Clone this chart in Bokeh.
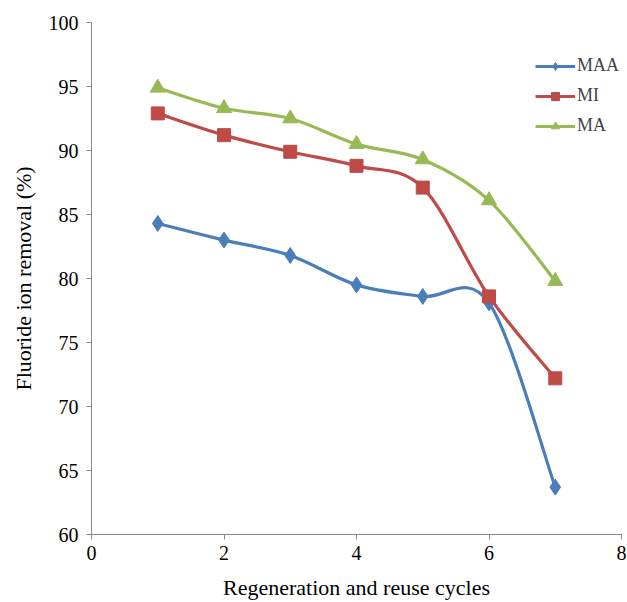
from bokeh.plotting import figure
from bokeh.models import Range1d, Legend, LegendItem, FixedTicker
from bokeh.embed import file_html
from bokeh.resources import INLINE

cycles = [1, 2, 3, 4, 5, 6, 7]
maa = [84.3, 83.0, 81.8, 79.5, 78.6, 78.1, 63.7]
mi = [92.9, 91.2, 89.9, 88.8, 87.1, 78.6, 72.2]
ma = [94.9, 93.3, 92.5, 90.5, 89.3, 86.1, 79.8]
series_names = ["MAA", "MI", "MA"]
x_ticks = [0, 2, 4, 6, 8]
y_ticks = [60, 65, 70, 75, 80, 85, 90, 95, 100]

FONT = "Liberation Serif"
AXIS_COLOR = "#898989"

p = figure(width=627, height=602, output_backend="svg", toolbar_location=None,
           x_range=Range1d(0, 8), y_range=Range1d(60, 100),
           min_border_left=91, min_border_right=6, min_border_top=22, min_border_bottom=66)
p.outline_line_color = None
p.xgrid.visible = False
p.ygrid.visible = False
p.background_fill_color = "white"
p.border_fill_color = "white"

for ax in (p.xaxis[0], p.yaxis[0]):
    ax.axis_line_color = AXIS_COLOR
    ax.major_tick_line_color = AXIS_COLOR
    ax.minor_tick_line_color = None
    ax.major_tick_out = 5
    ax.major_tick_in = 0
    ax.major_label_text_font = FONT
    ax.major_label_text_font_size = "20px"
    ax.major_label_text_color = "black"
    ax.axis_label_text_font = FONT
    ax.axis_label_text_font_size = "22px"
    ax.axis_label_text_font_style = "normal"
    ax.axis_label_text_color = "black"

p.xaxis.ticker = FixedTicker(ticks=x_ticks)
p.yaxis.ticker = FixedTicker(ticks=y_ticks)
p.xaxis.axis_label = "Regeneration and reuse cycles"
p.yaxis.axis_label = "Fluoride ion removal (%)"
p.xaxis.major_label_standoff = 6
p.yaxis.major_label_standoff = 8
p.xaxis.axis_label_standoff = 12
p.yaxis.axis_label_standoff = 10


def bezier_segments(xs, ys):
    n = len(xs)
    x0, y0, x1, y1, cx0, cy0, cx1, cy1 = [], [], [], [], [], [], [], []
    for i in range(n - 1):
        pm = max(i - 1, 0)
        pp = min(i + 2, n - 1)
        x0.append(xs[i]); y0.append(ys[i])
        x1.append(xs[i + 1]); y1.append(ys[i + 1])
        cx0.append(xs[i] + (xs[i + 1] - xs[pm]) / 6)
        cy0.append(ys[i] + (ys[i + 1] - ys[pm]) / 6)
        cx1.append(xs[i + 1] - (xs[pp] - xs[i]) / 6)
        cy1.append(ys[i + 1] - (ys[pp] - ys[i]) / 6)
    return dict(x0=x0, y0=y0, x1=x1, y1=y1, cx0=cx0, cy0=cy0, cx1=cx1, cy1=cy1)


styles = [
    (maa, "#4A7EBB", "diamond", 16),
    (mi, "#BE4B48", "square", 13),
    (ma, "#98B954", "triangle", 15),
]

items = []
for name, (vals, color, marker, size) in zip(series_names, styles):
    seg = bezier_segments(cycles, vals)
    p.bezier(line_color=color, line_width=3.2, **seg)
    sc = p.scatter(cycles, vals, marker=marker, size=size, fill_color=color,
                   line_color=color, line_width=1)
    dummy = p.line([float("nan")], [float("nan")], line_color=color, line_width=3.2)
    items.append(LegendItem(label=name, renderers=[dummy, sc]))

legend = Legend(items=items, location=(444, 398), orientation="vertical",
                glyph_width=40, glyph_height=20, label_height=20, spacing=9,
                padding=0, margin=0, label_standoff=2,
                label_text_font=FONT, label_text_font_size="18px",
                border_line_color=None, background_fill_alpha=0)
p.add_layout(legend)

open("out.html", "w").write(file_html(p, INLINE))
